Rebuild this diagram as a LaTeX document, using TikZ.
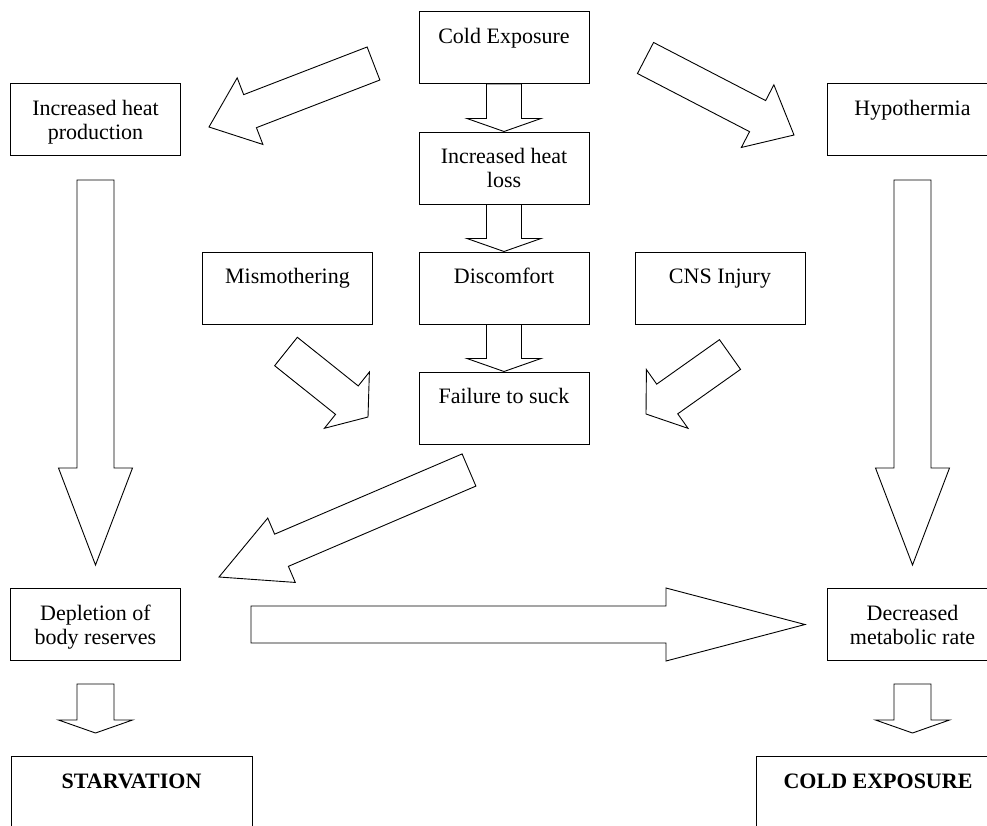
\documentclass[tikz,border=0pt]{standalone}
\usepackage{fontspec}
\setmainfont{Liberation Serif}
\usetikzlibrary{calc}
\tikzset{
  stagebox/.style = {draw, line width=1pt, minimum width=170pt, minimum height=72pt, inner sep=0pt, align=center, font=\fontsize{22}{24}\selectfont},
  endbox/.style = {stagebox, minimum width=243pt, font=\fontsize{22}{24}\selectfont\bfseries},
  fat/.style = {draw, fill=white, line width=0.9pt, line join=miter}
}
% two lines of text in every box, so the words sit in the upper half
\newcommand\boxtext[2]{\rule{0pt}{23pt}#1\\\strut#2}
% block arrow: tail, tip, half shaft width, half head width, head length
\newcommand\fatarrow[5]{%
  \coordinate (fa base) at ($(#2)!#5!(#1)$);
  \draw[fat] ($(#1)!#3!90:(#2)$) -- ($(fa base)!#3!-90:(#1)$) -- ($(fa base)!#4!-90:(#1)$)
    -- (#2) -- ($(fa base)!#4!90:(#1)$) -- ($(fa base)!#3!90:(#1)$) -- ($(#1)!#3!-90:(#2)$) -- cycle;
}

\begin{document}
\begin{tikzpicture}[x=1pt, y=-1pt]
  \fill[white] (0,0) rectangle (987,825);
  \useasboundingbox (0,0) rectangle (987,825);
  \clip (0,0) rectangle (987,825);

  % centre column
  \node [stagebox] (cold) at (504,47.5) {\boxtext{Cold Exposure}{}};
  \node [stagebox] (heatloss) at (504,168) {\boxtext{Increased heat}{loss}};
  \node [stagebox] (discomf) at (504,288) {\boxtext{Discomfort}{}};
  \node [stagebox] (failure) at (504,408) {\boxtext{Failure to suck}{}};
  \node [stagebox] (mismo) at (287.5,288) {\boxtext{Mismothering}{}};
  \node [stagebox] (cns) at (720,288) {\boxtext{CNS Injury}{}};

  % sides
  \node [stagebox] (incprod) at (95.5,119.5) {\boxtext{Increased heat}{production}};
  \node [stagebox] (hypo) at (912.5,119.5) {\boxtext{Hypothermia}{}};
  \node [stagebox] (depletion) at (95.5,624.5) {\boxtext{Depletion of}{body reserves}};
  \node [stagebox] (decmet) at (912.5,624.5) {\boxtext{Decreased}{metabolic rate}};
  \node [endbox, minimum width=241pt] (starv) at (131.5,792.5) {\boxtext{STARVATION}{}};
  \node [endbox, minimum width=244pt] (coldexp) at (878,792.5) {\boxtext{COLD EXPOSURE}{}};

  % free ends of the block arrows
  \coordinate (c1t) at (373.5,63.5);  \coordinate (c1h) at (209,127);
  \coordinate (c2t) at (645.5,58);    \coordinate (c2h) at (794,135);
  \coordinate (p1t) at (95.5,180);    \coordinate (p1h) at (95.5,565);
  \coordinate (h1t) at (912.5,180);   \coordinate (h1h) at (912.5,565);
  \coordinate (s1t) at (286,351.5);   \coordinate (s1h) at (368,417);
  \coordinate (s2t) at (730,354.5);   \coordinate (s2h) at (646,414);
  \coordinate (f1t) at (469,470);     \coordinate (f1h) at (219,577);
  \coordinate (r1t) at (251,624.5);   \coordinate (r1h) at (805,624.5);
  \coordinate (d1t) at (95.5,684);    \coordinate (d1h) at (95.5,733);
  \coordinate (m1t) at (912.5,684);   \coordinate (m1h) at (912.5,733);

  \fatarrow{cold.south}{heatloss.north}{17.5pt}{37pt}{13pt}
  \fatarrow{heatloss.south}{discomf.north}{17.5pt}{37pt}{13pt}
  \fatarrow{discomf.south}{failure.north}{17.5pt}{37pt}{13pt}
  \fatarrow{c1t}{c1h}{17.7pt}{35.7pt}{44pt}
  \fatarrow{c2t}{c2h}{17.5pt}{35.3pt}{41pt}
  \fatarrow{p1t}{p1h}{18.5pt}{37pt}{97pt}
  \fatarrow{h1t}{h1h}{18.5pt}{37pt}{97pt}
  \fatarrow{s1t}{s1h}{18.2pt}{36pt}{27pt}
  \fatarrow{s2t}{s2h}{18.2pt}{36pt}{26pt}
  \fatarrow{f1t}{f1h}{17.5pt}{35pt}{68pt}
  \fatarrow{r1t}{r1h}{18.5pt}{36.5pt}{139pt}
  \fatarrow{d1t}{d1h}{18.5pt}{37pt}{13pt}
  \fatarrow{m1t}{m1h}{18.5pt}{37pt}{13pt}
\end{tikzpicture}
\end{document}
